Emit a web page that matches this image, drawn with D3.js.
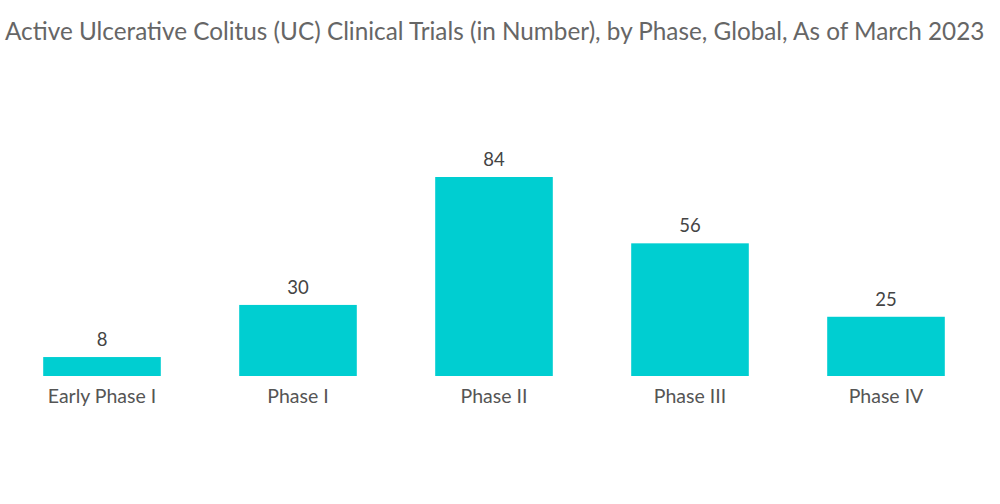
<!DOCTYPE html>
<html>
<head>
<meta charset="utf-8">
<script src="https://cdn.jsdelivr.net/npm/d3@7"></script>
<style>
  body { margin: 0; background: #fff; }
  svg { display: block; font-family: Lato, "Open Sans", sans-serif; }
</style>
</head>
<body>
<svg id="chart" width="1000" height="504"></svg>
<script>
const title = "Active Ulcerative Colitus (UC) Clinical Trials (in Number), by Phase, Global, As of March 2023";
const phases = ["Early Phase I", "Phase I", "Phase II", "Phase III", "Phase IV"];
const trials = [8, 30, 84, 56, 25];

const svg = d3.select("#chart");
const baseline = 376;

const x = d3.scaleBand()
  .domain(phases)
  .range([4, 984])
  .paddingInner(0.4)
  .paddingOuter(0.2);

const y = d3.scaleLinear()
  .domain([0, 84])
  .range([baseline, 177]);

// title, stretched to the measured width
const t = svg.append("text")
  .attr("x", 5).attr("y", 40)
  .attr("fill", "#666")
  .attr("font-size", "21px")
  .text(title);
const tw = t.node().getComputedTextLength();
t.attr("font-size", (21 * 980 / tw).toFixed(2) + "px");

svg.selectAll(".bar")
  .data(phases).enter().append("rect")
  .attr("class", "bar")
  .attr("x", d => x(d))
  .attr("width", x.bandwidth())
  .attr("y", (d, i) => y(trials[i]))
  .attr("height", (d, i) => baseline - y(trials[i]))
  .attr("fill", "#00ced1");

svg.selectAll(".val")
  .data(phases).enter().append("text")
  .attr("class", "val")
  .attr("x", d => x(d) + x.bandwidth() / 2)
  .attr("y", (d, i) => y(trials[i]) - 11)
  .attr("text-anchor", "middle")
  .attr("fill", "#444")
  .attr("font-size", "18.5px")
  .text((d, i) => trials[i]);

// category axis, no line or ticks
const axis = svg.append("g")
  .attr("transform", `translate(0,${baseline})`)
  .call(d3.axisBottom(x).tickSize(0).tickPadding(13));
axis.select(".domain").remove();
axis.selectAll("text")
  .attr("fill", "#555")
  .attr("font-size", "19.5px")
  .attr("font-family", "Lato, 'Open Sans', sans-serif");
</script>
</body>
</html>
